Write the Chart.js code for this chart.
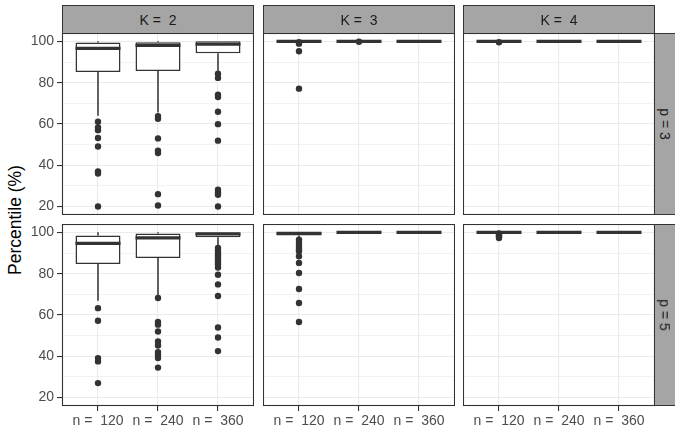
<!DOCTYPE html>
<html><head><meta charset="utf-8">
<script src="https://cdn.jsdelivr.net/npm/chart.js@4"></script>
<style>
html,body{margin:0;padding:0;background:#fff;width:675px;height:432px;overflow:hidden;position:relative;font-family:'Liberation Sans',Arial,sans-serif;}
canvas{position:absolute;}
.strip{position:absolute;box-sizing:border-box;background:#A5A5A5;border:1px solid #333;color:#1A1A1A;font-size:14px;display:flex;align-items:center;justify-content:center;white-space:pre;}
.vtxt{transform:rotate(90deg);white-space:pre;}
#ytitle{position:absolute;left:15px;top:220px;transform:translate(-50%,-50%) rotate(-90deg);font-size:17.5px;white-space:nowrap;color:#000;}
</style></head>
<body>
<div id="ytitle">Percentile (%)</div>
<script>
const nLabels = ['n =  120', 'n =  240', 'n =  360'];
const kLabels = ['K =  2', 'K =  3', 'K =  4'];
const pLabels = ['p = 3', 'p = 5'];
const yTicks = [20, 30, 40, 50, 60, 70, 80, 90, 100];

// p = 3 : one row per K (2, 3, 4), one value per n (120, 240, 360)
const lowP3  = [[64.0, 65.5, 85.8], [100, 100, 100], [100, 100, 100]];
const q1P3   = [[85.2, 85.6, 94.2], [100, 100, 100], [100, 100, 100]];
const medP3  = [[96.6, 98.1, 98.6], [100, 100, 100], [100, 100, 100]];
const q3P3   = [[99.5, 99.6, 100], [100, 100, 100], [100, 100, 100]];
const highP3 = [[100, 100, 100], [100, 100, 100], [100, 100, 100]];
const outP3 = [
  [[61.1, 58.3, 57.0, 53.2, 49.1, 37.0, 36.0, 20.0],
   [63.8, 62.5, 53.0, 47.0, 45.9, 26.0, 20.5],
   [84.3, 82.3, 74.2, 73.0, 65.9, 59.9, 51.9, 28.1, 26.8, 25.7, 20.0]],
  [[99.6, 98.9, 95.2, 77.1], [99.8], []],
  [[99.6], [], []]
];

// p = 5
const lowP5  = [[66.9, 69.5, 93.5], [96.8, 100, 100], [100, 100, 100]];
const q1P5   = [[84.7, 87.6, 97.6], [98.5, 100, 100], [100, 100, 100]];
const medP5  = [[94.7, 97.3, 99.2], [99.5, 100, 100], [100, 100, 100]];
const q3P5   = [[98.5, 99.5, 100], [100, 100, 100], [100, 100, 100]];
const highP5 = [[100, 100, 100], [100, 100, 100], [100, 100, 100]];
const outP5 = [
  [[63.3, 57.2, 39.1, 37.5, 27.0],
   [68.2, 56.6, 55.3, 52.0, 47.2, 45.2, 42.0, 40.7, 39.1, 34.5],
   [92.4, 91.1, 89.8, 88.8, 87.9, 86.8, 85.5, 84.4, 83.0, 79.5, 74.8, 69.2, 53.9, 49.1, 42.5]],
  [[96.5, 95.3, 94.0, 92.9, 91.8, 90.8, 88.4, 85.2, 80.3, 72.6, 65.8, 56.6], [], []],
  [[99.5, 98.9, 98.3, 97.7, 97.3], [], []]
];

const FONT = 'Liberation Sans';
Chart.defaults.font.family = FONT;
const DARK = '#333333';
const BOX_HALF = 0.375;

const rowsStats = [
  {low: lowP3, q1: q1P3, med: medP3, q3: q3P3, high: highP3, out: outP3},
  {low: lowP5, q1: q1P5, med: medP5, q3: q3P5, high: highP5, out: outP5}
];

const colLeft = [62, 263, 463];
const PW = 192, PH = 182;
const rowTop = [33, 224];
const YAXW = 62, XAXH = 26;

const framePlugin = {
  id: 'frame',
  afterDatasetsDraw(chart) {
    const {ctx, chartArea: a} = chart;
    ctx.save();
    ctx.strokeStyle = DARK;
    ctx.lineWidth = 1.1;
    ctx.strokeRect(a.left + 0.5, a.top + 0.5, a.right - a.left - 1, a.bottom - a.top - 1);
    ctx.restore();
  }
};

function addDiv(cls, left, top, w, h, html) {
  const d = document.createElement('div');
  d.className = cls;
  d.style.left = left + 'px'; d.style.top = top + 'px';
  d.style.width = w + 'px'; d.style.height = h + 'px';
  d.innerHTML = html;
  document.body.appendChild(d);
  return d;
}

function makePanel(r, c) {
  const st = rowsStats[r];
  const low = st.low[c], q1 = st.q1[c], med = st.med[c], q3 = st.q3[c], high = st.high[c], outs = st.out[c];
  const showY = c === 0, showX = r === 1;
  const w = PW + (showY ? YAXW : 0);
  const h = PH + (showX ? XAXH : 0);
  const cv = document.createElement('canvas');
  cv.width = w; cv.height = h;
  cv.style.width = w + 'px'; cv.style.height = h + 'px';
  cv.style.left = (colLeft[c] - (showY ? YAXW : 0)) + 'px';
  cv.style.top = rowTop[r] + 'px';
  document.body.appendChild(cv);

  const idx = [0, 1, 2];
  const boxData = idx.map(i => ({x: i + 1, y: [q1[i], q3[i]]}));
  const whiskerData = [];
  idx.forEach(i => {
    whiskerData.push({x: i + 1, y: low[i]}, {x: i + 1, y: q1[i]}, {x: i + 1, y: null},
                     {x: i + 1, y: q3[i]}, {x: i + 1, y: high[i]}, {x: i + 1, y: null});
  });
  const medData = [];
  idx.forEach(i => {
    medData.push({x: i + 1 - BOX_HALF, y: med[i]}, {x: i + 1 + BOX_HALF, y: med[i]}, {x: i + 1, y: null});
  });
  const outData = [];
  idx.forEach(i => outs[i].forEach(v => outData.push({x: i + 1, y: v})));

  new Chart(cv, {
    type: 'scatter',
    data: {
      datasets: [
        {type: 'scatter', data: outData, pointRadius: 3.2, pointBackgroundColor: DARK, pointBorderWidth: 0, order: 0},
        {type: 'line', data: medData, borderColor: DARK, borderWidth: 3.2, borderCapStyle: 'butt', pointRadius: 0, spanGaps: false, fill: false, order: 1},
        {type: 'bar', data: boxData, backgroundColor: '#ffffff', borderColor: DARK, borderWidth: 1.5, borderSkipped: false,
         grouped: false, categoryPercentage: 1, barPercentage: 0.75, order: 2},
        {type: 'line', data: whiskerData, borderColor: DARK, borderWidth: 1.5, pointRadius: 0, spanGaps: false, fill: false, order: 3}
      ]
    },
    options: {
      responsive: false, animation: false, events: [],
      layout: {padding: 0, autoPadding: false},
      plugins: {legend: {display: false}, tooltip: {enabled: false}},
      scales: {
        x: {
          type: 'linear', min: 0.4, max: 3.6, offset: false,
          afterBuildTicks: s => { s.ticks = [1, 2, 3].map(v => ({value: v})); },
          afterFit: s => { s.height = showX ? XAXH : 0; s.paddingLeft = 0; s.paddingRight = 0; s.paddingTop = 0; s.paddingBottom = 0; },
          grid: {offset: false, color: '#EBEBEB', lineWidth: 1.1, drawTicks: showX, tickLength: 5, tickColor: DARK, tickWidth: 1.1},
          border: {display: false},
          ticks: {display: showX, autoSkip: false, maxRotation: 0, padding: 2, color: '#4D4D4D',
                  font: {family: FONT, size: 14}, callback: (v, i) => nLabels[i]}
        },
        y: {
          type: 'linear', min: 15.9, max: 104.05, offset: false,
          afterBuildTicks: s => { s.ticks = yTicks.map(v => ({value: v})); },
          afterFit: s => { s.width = showY ? YAXW : 0; s.paddingTop = 0; s.paddingBottom = 0; s.paddingLeft = 0; s.paddingRight = 0; },
          grid: {
            color: '#EBEBEB',
            lineWidth: ctx => (ctx.tick && ctx.tick.value % 20 === 0) ? 1.1 : 0.6,
            drawTicks: showY, tickLength: 5, tickWidth: 1.1,
            tickColor: ctx => (ctx.tick && ctx.tick.value % 20 === 0) ? DARK : 'rgba(0,0,0,0)'
          },
          border: {display: false},
          ticks: {display: showY, autoSkip: false, padding: 3, color: '#4D4D4D',
                  font: {family: FONT, size: 14}, callback: v => (v % 20 === 0 ? String(v) : '')}
        }
      }
    },
    plugins: [framePlugin]
  });
}

for (let r = 0; r < 2; r++) for (let c = 0; c < 3; c++) makePanel(r, c);

// strips
for (let c = 0; c < 3; c++) addDiv('strip', colLeft[c], 5, PW, 29, kLabels[c]);
for (let r = 0; r < 2; r++) addDiv('strip', colLeft[2] + PW - 1, rowTop[r], 22, PH, '<span class="vtxt">' + pLabels[r] + '</span>');
</script>
</body></html>
